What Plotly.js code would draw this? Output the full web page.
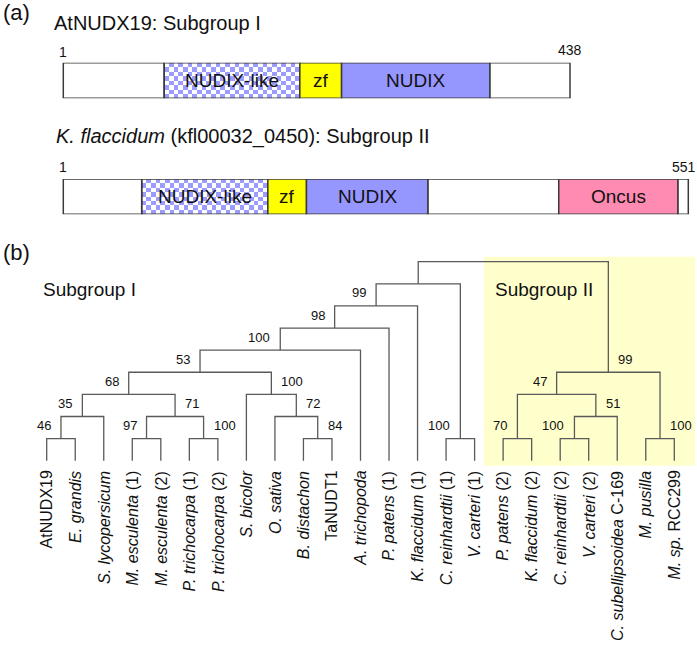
<!DOCTYPE html>
<html>
<head>
<meta charset="utf-8">
<script src="https://cdn.plot.ly/plotly-3.0.1.min.js"></script>
<style>html,body{margin:0;padding:0;background:#fff;}</style>
</head>
<body>
<div id="chart" style="width:697px;height:651px;"></div>
<script>
// ---------- DATA ----------
// (a) domain architecture, residue numbers
var protein1Length = 438;
var protein1DomainNames = ['', 'NUDIX-like', 'zf', 'NUDIX', ''];
var protein1DomainStart = [1, 88, 205, 241, 369];
var protein1DomainEnd   = [88, 205, 241, 369, 438];

var protein2Length = 551;
var protein2DomainNames = ['', 'NUDIX-like', 'zf', 'NUDIX', '', 'Oncus', ''];
var protein2DomainStart = [1, 70, 181, 215, 322, 437, 542];
var protein2DomainEnd   = [70, 181, 215, 322, 437, 542, 551];

// (b) tree
var leafNames = ['AtNUDX19', '<i>E. grandis</i>', '<i>S. lycopersicum</i>', '<i>M. esculenta</i> (1)',
  '<i>M. esculenta</i> (2)', '<i>P. trichocarpa</i> (1)', '<i>P. trichocarpa</i> (2)', '<i>S. bicolor</i>',
  '<i>O. sativa</i>', '<i>B. distachon</i>', 'TaNUDT1', '<i>A. trichopoda</i>', '<i>P. patens</i> (1)',
  '<i>K. flaccidum</i> (1)', '<i>C. reinhardtii</i> (1)', '<i>V. carteri</i> (1)', '<i>P. patens</i> (2)',
  '<i>K. flaccidum</i> (2)', '<i>C. reinhardtii</i> (2)', '<i>V. carteri</i> (2)',
  '<i>C. subellipsoidea</i> C-169', '<i>M. pusilla</i>', '<i>M. sp.</i> RCC299'];
var nodeLeft    = ['L0','n0','L3','L5','n2','n1','L9','L8','L7','n5','n9','n10','n11','L14','n12','L16','L18','n16','n15','L21','n18','n14'];
var nodeRight   = ['L1','L2','L4','L6','n3','n4','L10','n6','n7','n8','L11','L12','L13','L15','n13','L17','L19','L20','n17','L22','n19','n20'];
var nodeHeight  = [1,2,1,1,2,3,1,2,3,4,5,6,7,1,8,1,1,2,3,1,4,9];
var nodeSupport = ['46','35','97','100','71','68','84','72','100','53','100','98','99','100','','70','100','51','47','100','99',''];
var supportSide = ['left','left','left','right','right','left','right','right','right','left','left','left','left','left','','left','left','right','left','right','right',''];

// ---------- STYLE ----------
var W = 697, H = 651;
var FONT = 'Arial, "Liberation Sans", sans-serif';
var segColors1 = ['#ffffff', 'rgba(0,0,0,0)', '#ffff00', '#9696ff', '#ffffff'];
var segColors2 = ['#ffffff', 'rgba(0,0,0,0)', '#ffff00', '#9696ff', '#ffffff', '#ff8ab2', '#ffffff'];
var checkIdx = 1;

function px2paperY(p){ return 1 - p / H; }

// bar geometry (pixels)
var bar1 = {x0:63.3, x1:570, y0:62.7, y1:98.3};
var bar2 = {x0:63.3, x1:688.3, y0:179, y1:214.3};
function axisRange(b, len){
  var s = (b.x1 - b.x0) / (len - 1);
  return {range:[1 - b.x0 / s, 1 + (W - b.x0) / s], scale:s};
}
var r1 = axisRange(bar1, protein1Length);
var r2 = axisRange(bar2, protein2Length);

var traces = [];
var annotations = [];

function checker(start, end, scale, xa, ya){
  var cell = 4.6;
  var ncols = Math.max(1, Math.round((end - start) * scale / cell));
  var nrows = 8;
  var z = [];
  for (var r = 0; r < nrows; r++){ var row = []; for (var c = 0; c < ncols; c++) row.push((r + c) % 2); z.push(row); }
  var dx = (end - start) / ncols, dy = 1 / nrows;
  traces.push({type:'heatmap', z:z, x0:start + dx/2, dx:dx, y0:dy/2, dy:dy,
    colorscale:[[0,'#9c9cff'],[1,'#ffffff']], showscale:false, zsmooth:false,
    xaxis:xa, yaxis:ya, hoverinfo:'skip'});
}

function domainBar(names, starts, ends, colors, xa, ya, scale){
  checker(starts[checkIdx], ends[checkIdx], scale, xa, ya);
  traces.push({type:'bar', orientation:'h', y:starts.map(function(){return 0.5;}),
    base:starts, x:starts.map(function(s,i){return ends[i]-s;}), width:1,
    marker:{color:colors, line:{color:'#3a3a3a', width:1.5}},
    xaxis:xa, yaxis:ya, hoverinfo:'skip'});
  names.forEach(function(n,i){
    if(!n) return;
    annotations.push({xref:xa, yref:ya, x:(starts[i]+ends[i])/2, y:0.5, text:n, showarrow:false,
      font:{family:FONT, size:19, color:'#111'}});
  });
}
domainBar(protein1DomainNames, protein1DomainStart, protein1DomainEnd, segColors1, 'x', 'y', r1.scale);
domainBar(protein2DomainNames, protein2DomainStart, protein2DomainEnd, segColors2, 'x2', 'y2', r2.scale);

// residue numbers
annotations.push({xref:'x', yref:'y', x:1, y:1, yshift:11, text:'1', showarrow:false, font:{family:FONT,size:14,color:'#111'}});
annotations.push({xref:'x', yref:'y', x:protein1Length, y:1, yshift:13, text:String(protein1Length), showarrow:false, font:{family:FONT,size:14,color:'#111'}});
annotations.push({xref:'x2', yref:'y2', x:1, y:1, yshift:12, text:'1', showarrow:false, font:{family:FONT,size:14,color:'#111'}});
annotations.push({xref:'x2', yref:'y2', x:protein2Length, y:1, yshift:12, xshift:-4, text:String(protein2Length), showarrow:false, font:{family:FONT,size:14,color:'#111'}});

// ---------- TREE ----------
var posX = {}, posH = {};
leafNames.forEach(function(n,i){ posX['L'+i] = i; posH['L'+i] = 0; });
var lx = [], ly = [];
for (var k = 0; k < nodeLeft.length; k++){
  var a = nodeLeft[k], b = nodeRight[k], h = nodeHeight[k];
  var xa = posX[a], xb = posX[b];
  lx.push(xa, xa, xb, xb, null);
  ly.push(posH[a], h, h, posH[b], null);
  posX['n'+k] = (xa + xb) / 2; posH['n'+k] = h;
}
traces.push({type:'scatter', mode:'lines', x:lx, y:ly, line:{color:'#5a5a5a', width:1.3},
  xaxis:'x3', yaxis:'y3', hoverinfo:'skip', connectgaps:false});

nodeSupport.forEach(function(s,k){
  if(!s) return;
  var left = supportSide[k] === 'left';
  annotations.push({xref:'x3', yref:'y3', x:posX['n'+k], y:nodeHeight[k], text:s, showarrow:false,
    xanchor: left ? 'right' : 'left', xshift: left ? -8 : 8, yanchor:'middle', yshift:13,
    font:{family:FONT, size:13, color:'#111'}});
});
leafNames.forEach(function(n,i){
  annotations.push({xref:'x3', yref:'y3', x:i, y:0, text:n, showarrow:false, textangle:-90,
    xanchor:'center', yanchor:'top', yshift:-8, font:{family:FONT, size:16, color:'#111'}});
});

// titles
function paperText(t, xpx, ypx, size, anchor){
  annotations.push({xref:'paper', yref:'paper', x:xpx/W, y:px2paperY(ypx), text:t, showarrow:false,
    xanchor:anchor||'left', yanchor:'middle', font:{family:FONT, size:size, color:'#111'}});
}
paperText('(a)', 1, 13, 22);
paperText('AtNUDX19: Subgroup I', 52, 23, 20);
paperText('<i>K. flaccidum</i> (kfl00032_0450): Subgroup II', 54, 137, 20);
paperText('(b)', 1, 252, 22);
paperText('Subgroup I', 41, 290, 19);
paperText('Subgroup II', 493, 289, 19);

// tree axis ranges (leaf index / node height)
var leaf0px = 46.7, leafStep = 28.527, h0px = 460.7, hStep = 22.11;
var treeX = [-leaf0px/leafStep, (W - leaf0px)/leafStep];
var treeY = [(h0px - H)/hStep, h0px/hStep];

var hidden = {visible:false, fixedrange:true};
var layout = {
  width:W, height:H, margin:{l:0,r:0,t:0,b:0}, paper_bgcolor:'#fff', plot_bgcolor:'rgba(0,0,0,0)',
  showlegend:false, barmode:'overlay',
  xaxis: Object.assign({domain:[0,1], range:r1.range, anchor:'y'}, hidden),
  yaxis: Object.assign({domain:[px2paperY(bar1.y1), px2paperY(bar1.y0)], range:[0,1], anchor:'x'}, hidden),
  xaxis2: Object.assign({domain:[0,1], range:r2.range, anchor:'y2'}, hidden),
  yaxis2: Object.assign({domain:[px2paperY(bar2.y1), px2paperY(bar2.y0)], range:[0,1], anchor:'x2'}, hidden),
  xaxis3: Object.assign({domain:[0,1], range:treeX, anchor:'y3'}, hidden),
  yaxis3: Object.assign({domain:[0,1], range:treeY, anchor:'x3'}, hidden),
  shapes:[{type:'rect', xref:'paper', yref:'paper', x0:484/W, x1:695/W, y0:px2paperY(465.7), y1:px2paperY(256.7),
    fillcolor:'#ffffcc', line:{width:0}, layer:'below'}],
  annotations:annotations
};
Plotly.newPlot('chart', traces, layout, {staticPlot:true, displayModeBar:false});
</script>
</body>
</html>
